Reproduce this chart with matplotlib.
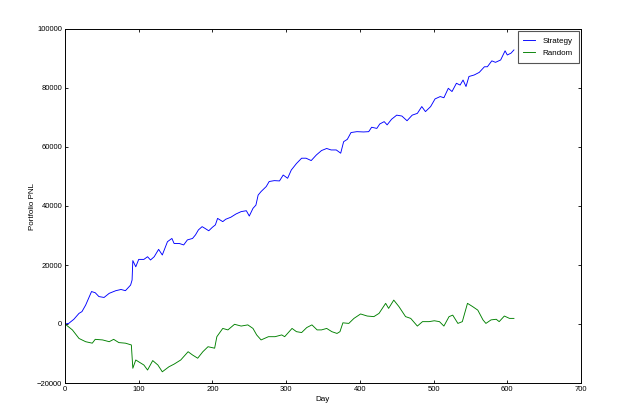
import matplotlib
matplotlib.use("Agg")
import matplotlib.pyplot as plt

plt.rcParams["font.family"] = ["Liberation Sans", "DejaVu Sans"]

# values
strategy_days = [0, 5, 12, 19, 23, 28, 32, 36, 41, 46, 53, 60, 69, 76, 82, 89, 91,
                 92, 96, 100, 107, 112, 116, 121, 127, 132, 139, 145, 148, 155,
                 161, 166, 173, 177, 181, 186, 190, 195, 200, 204, 207, 214, 218,
                 225, 232, 239, 246, 250, 255, 259, 262, 266, 273, 277, 284, 291,
                 296, 302, 307, 314, 321, 327, 334, 341, 348, 355, 361, 368, 374,
                 378, 383, 388, 396, 405, 412, 416, 423, 427, 433, 437, 443, 450,
                 457, 464, 471, 478, 484, 489, 496, 502, 509, 514, 520, 525, 531,
                 536, 540, 544, 548, 555, 562, 569, 573, 579, 584, 591, 597, 600,
                 605, 609]
strategy_pnl = [0, 200, 1600, 3600, 4200, 6400, 8700, 11000, 10600, 9300, 9000,
                10400, 11300, 11700, 11300, 13200, 14900, 21500, 19400, 21900,
                21900, 22800, 21700, 22800, 25300, 23400, 27900, 29000, 27300,
                27300, 26800, 28500, 29000, 30200, 31900, 33000, 32400, 31600,
                32800, 33600, 35800, 34700, 35500, 36200, 37300, 38100, 38400,
                36600, 39200, 40300, 43700, 44900, 46600, 48300, 48600, 48500,
                50500, 49400, 52200, 54400, 56200, 56200, 55400, 57300, 58800,
                59500, 59000, 59000, 57900, 61800, 62600, 64900, 65200, 65100,
                65200, 66700, 66300, 67800, 68600, 67500, 69400, 70800, 70500,
                68900, 70800, 71400, 73700, 72000, 73700, 76300, 77100, 76700,
                79900, 78800, 81600, 81000, 82700, 80500, 83900, 84400, 85300,
                87200, 87200, 89200, 88700, 89500, 92600, 91200, 91800, 92900]

random_days = [0, 10, 19, 28, 37, 41, 51, 60, 66, 73, 82, 90, 92, 96, 107, 112,
               119, 126, 132, 141, 148, 157, 167, 173, 180, 187, 194, 203, 206,
               214, 221, 230, 239, 248, 255, 260, 266, 276, 285, 294, 298, 308,
               314, 321, 328, 335, 342, 348, 355, 362, 369, 373, 377, 385, 392,
               401, 410, 419, 426, 435, 439, 446, 453, 462, 469, 478, 485, 494,
               501, 508, 514, 521, 526, 533, 539, 546, 553, 560, 567, 571, 578,
               585, 589, 596, 603, 609]
random_pnl = [0, -2000, -4900, -6000, -6500, -5200, -5400, -6000, -5200, -6300,
              -6500, -7100, -15000, -12200, -13900, -15600, -12400, -13900,
              -16200, -14500, -13600, -12200, -9400, -10500, -11600, -9400,
              -7700, -8200, -4300, -1500, -2000, -100, -700, -300, -1500, -3700,
              -5400, -4300, -4300, -3700, -4300, -1500, -2600, -2900, -1200,
              -300, -2000, -2000, -1500, -2600, -3200, -2600, 400, 200, 1900,
              3400, 2700, 2500, 3600, 7000, 5300, 8100, 5900, 2500, 1900, -700,
              800, 800, 1100, 800, -700, 2500, 3000, 200, 800, 7000, 5900, 4700,
              1400, 200, 1400, 1600, 800, 2700, 1900, 1900]

fig = plt.figure(figsize=(6.28, 4.19), dpi=100, facecolor="white")
ax = fig.add_axes([65 / 628, 1 - 383 / 419, 516 / 628, 354 / 419])

ax.plot(strategy_days, strategy_pnl, color="blue", lw=0.65, label="Strategy")
ax.plot(random_days, random_pnl, color="green", lw=0.65, label="Random")

ax.set_xlim(0, 700)
ax.set_ylim(-20000, 100000)
ax.set_xticks(range(0, 701, 100))
ax.set_yticks(range(-20000, 100001, 20000))
ax.tick_params(direction="in", top=True, right=True, length=2.5, width=0.6,
               labelsize=5.5, pad=2)
for s in ax.spines.values():
    s.set_linewidth(0.7)

ax.set_xlabel("Day", fontsize=5.8)
ax.set_ylabel("Portfolio PNL", fontsize=5.8)
ax.xaxis.set_label_coords(0.5, -0.037)
ax.yaxis.set_label_coords(-0.057, 0.5)

leg = ax.legend(loc="upper right", fontsize=5.8, fancybox=False, framealpha=1,
                edgecolor="#555555", handlelength=1.4, borderpad=0.7,
                labelspacing=0.6, handletextpad=1.0, borderaxespad=0.3)
leg.get_frame().set_linewidth(0.8)

fig.savefig("out.png", dpi=100, facecolor="white")
